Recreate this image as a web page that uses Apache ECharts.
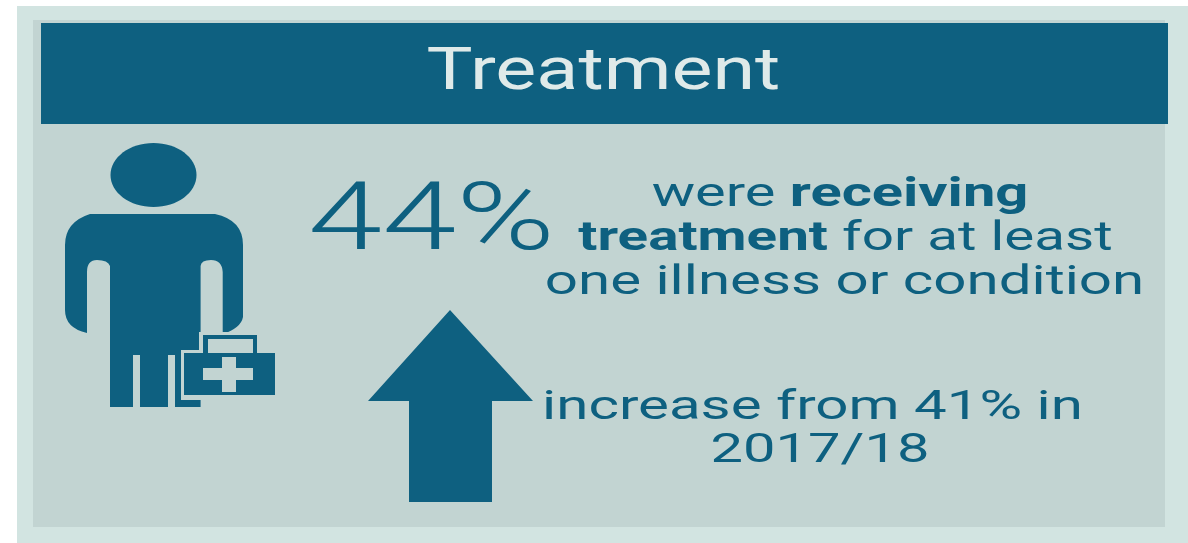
<!DOCTYPE html>
<html>
<head>
<meta charset="utf-8">
<style>html,body{margin:0;padding:0;background:#fff}#main{width:1188px;height:543px}</style>
<script src="https://cdn.jsdelivr.net/npm/echarts@6/dist/echarts.min.js"></script>
</head>
<body>
<div id="main"></div>
<script>
// Figures shown on the panel
const heading = 'Treatment';
const currentShare = 44;
const previousShare = 41;
const previousPeriod = '2017/18';

const DARK = '#0e6080';
const PANEL = '#c2d4d2';
const OUTER = '#d2e4e1';
const HEADING_TEXT = '#dfeae9';
const FONT = 'Roboto, "Noto Sans", sans-serif';

// Standing figure: shoulders, arms, torso and three leg strips
const personPath = 'M90 214 L215 214 Q243 220 243 245 L243 317 Q241 328 222.7 334 L222.7 272 Q222 260 211 260 Q201 260 200.6 266 ' +
  'L200.6 407 L175 407 L175 355 L168 355 L168 407 L140 407 L140 355 L133 355 L133 407 L110 407 L110 266 ' +
  'Q108 260 97 260 Q87 260 87 272 L87 333 Q65 328 65 310 L65 245 Q65 222 90 214 Z';

function rect(x, y, width, height, fill) {
  return { type: 'rect', shape: { x, y, width, height }, style: { fill }, silent: true };
}

function label(text, cx, baseline, font, scaleX, rich, fill) {
  return {
    type: 'text', x: cx, y: baseline, scaleX, silent: true,
    style: { text, fill: fill || DARK, font, textAlign: 'center', textVerticalAlign: 'bottom', rich }
  };
}

const regular = 'normal 400 41px ' + FONT;
const bold = { fill: DARK, font: 'normal 700 41px ' + FONT };
const plain = { fill: DARK, font: regular };

const graphics = [
  rect(17, 6, 1171, 537, OUTER),
  rect(33, 20, 1132, 507, PANEL),
  rect(41, 23, 1127, 101, DARK),
  label(heading, 603.5, 104, 'normal 400 59px ' + FONT, 1.31, undefined, HEADING_TEXT),

  // Headline share
  label(currentShare + '%', 431.5, 272, 'normal 300 94px ' + FONT, 1.42),
  label('{a|were }{b|receiving}', 840, 216, regular, 1.41, { a: plain, b: bold }),
  label('{b|treatment}{a| for at least}', 845.5, 260, regular, 1.38, { a: plain, b: bold }),
  label('one illness or condition', 844.5, 304, regular, 1.42),

  // Upward arrow and comparison note
  { type: 'polygon', shape: { points: [[450, 310], [533, 401], [492, 401], [492, 502], [409, 502], [409, 401], [368, 401]] }, style: { fill: DARK }, silent: true },
  label('increase from ' + previousShare + '% in', 812.5, 429, regular, 1.42),
  label(previousPeriod, 820, 472, regular, 1.41)
];

// Person with medical case, drawn as one custom mark
function renderPerson() {
  return {
    type: 'group',
    children: [
      { type: 'ellipse', shape: { cx: 153.5, cy: 175, rx: 43, ry: 32 }, style: { fill: DARK } },
      { type: 'path', shape: { pathData: personPath }, style: { fill: DARK } },
      rect(199, 332, 62, 24, PANEL),
      rect(181, 350, 97, 50, PANEL),
      rect(203, 335, 54, 20, DARK),
      rect(208, 339, 45, 14, PANEL),
      rect(184, 353, 91, 42, DARK),
      rect(203, 368, 50, 12, PANEL),
      rect(222, 357, 14, 35, PANEL)
    ]
  };
}

const chart = echarts.init(document.getElementById('main'), null, { renderer: 'canvas', width: 1188, height: 543 });
chart.setOption({
  animation: false,
  backgroundColor: '#fff',
  graphic: { elements: graphics },
  series: [{ type: 'custom', coordinateSystem: 'none', silent: true, data: [[currentShare]], renderItem: renderPerson }]
});
</script>
</body>
</html>
